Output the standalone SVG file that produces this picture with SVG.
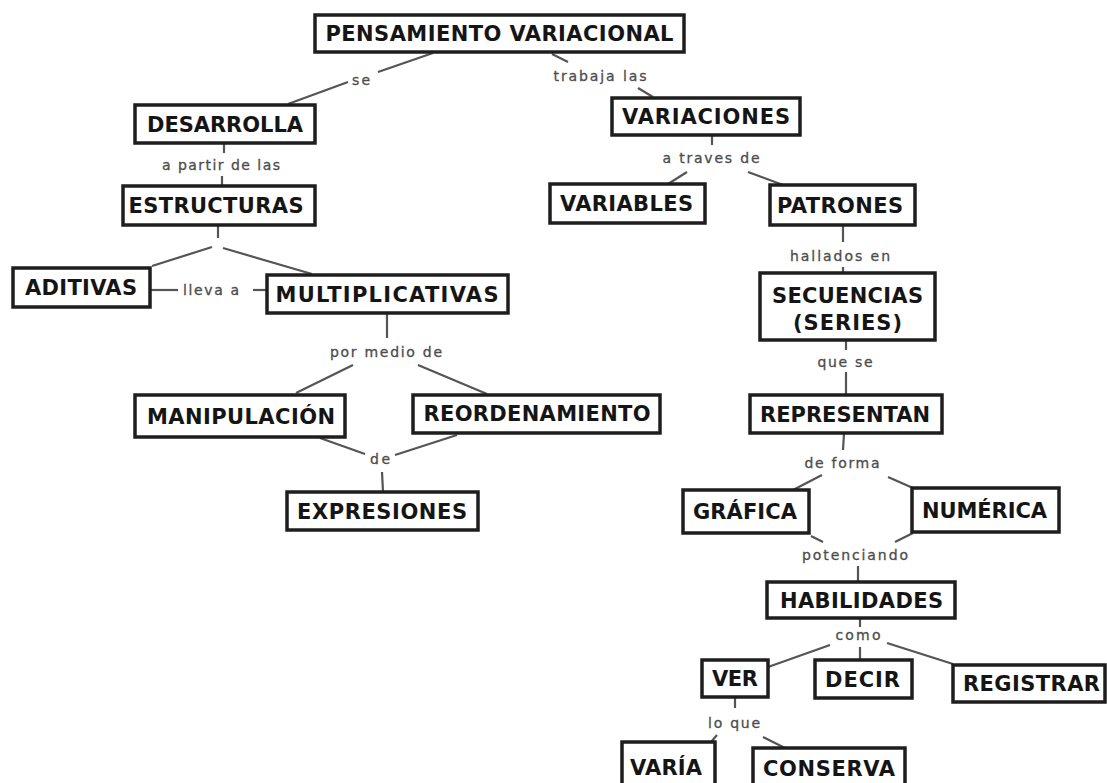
<svg xmlns="http://www.w3.org/2000/svg" width="1107" height="783" viewBox="0 0 1107 783">
  <style>
    .box rect { fill: #ffffff; stroke: #1e1e1e; stroke-width: 3.5; }
    .box text { font-family: "DejaVu Sans", "Liberation Sans", sans-serif; font-weight: bold; font-size: 21px; fill: #151515; text-anchor: middle; }
    .links line { stroke: #555555; stroke-width: 2.2; }
    .lbl { font-family: "DejaVu Sans", "Liberation Sans", sans-serif; font-size: 14px; fill: #4d4d4d; stroke: #4d4d4d; stroke-width: 0.3; text-anchor: middle; }
  </style>
  <rect width="1107" height="783" fill="#ffffff"/>

  <!-- connectors -->
  <g id="connectors" class="links">
    <line x1="433" y1="53" x2="378" y2="72"/>
    <line x1="348" y1="82" x2="288" y2="104"/>
    <line x1="552" y1="54" x2="568" y2="62"/>
    <line x1="638" y1="88" x2="653" y2="97"/>
    <line x1="224" y1="143" x2="224" y2="153"/>
    <line x1="222" y1="176" x2="222" y2="186"/>
    <line x1="218" y1="225" x2="218" y2="238"/>
    <line x1="212" y1="247" x2="152" y2="266"/>
    <line x1="223" y1="248" x2="312" y2="274"/>
    <line x1="150" y1="290" x2="178" y2="290"/>
    <line x1="253" y1="290" x2="267" y2="290"/>
    <line x1="387" y1="313" x2="387" y2="338"/>
    <line x1="353" y1="365" x2="296" y2="393"/>
    <line x1="418" y1="365" x2="487" y2="394"/>
    <line x1="320" y1="438" x2="365" y2="454"/>
    <line x1="457" y1="435" x2="395" y2="455"/>
    <line x1="382" y1="472" x2="383" y2="492"/>
    <line x1="712" y1="135" x2="712" y2="145"/>
    <line x1="687" y1="172" x2="668" y2="184"/>
    <line x1="748" y1="172" x2="783" y2="185"/>
    <line x1="843" y1="225" x2="843" y2="242"/>
    <line x1="843" y1="267" x2="843" y2="273"/>
    <line x1="846" y1="340" x2="846" y2="350"/>
    <line x1="846" y1="372" x2="846" y2="395"/>
    <line x1="844" y1="433" x2="843" y2="450"/>
    <line x1="822" y1="475" x2="793" y2="490"/>
    <line x1="888" y1="477" x2="913" y2="488"/>
    <line x1="811" y1="536" x2="823" y2="542"/>
    <line x1="913" y1="533" x2="895" y2="542"/>
    <line x1="858" y1="566" x2="858" y2="582"/>
    <line x1="860" y1="618" x2="860" y2="627"/>
    <line x1="830" y1="645" x2="768" y2="667"/>
    <line x1="860" y1="647" x2="860" y2="660"/>
    <line x1="887" y1="643" x2="953" y2="664"/>
    <line x1="735" y1="697" x2="735" y2="708"/>
    <line x1="717" y1="735" x2="711" y2="742"/>
    <line x1="763" y1="737" x2="785" y2="748"/>
  </g>

  <!-- link phrases -->
  <g id="link-labels">
    <text class="lbl" x="361" y="85" textLength="18" lengthAdjust="spacing">se</text>
    <text class="lbl" x="600" y="81" textLength="93" lengthAdjust="spacing">trabaja las</text>
    <text class="lbl" x="221" y="170" textLength="118" lengthAdjust="spacing">a partir de las</text>
    <text class="lbl" x="211" y="295" textLength="56" lengthAdjust="spacing">lleva a</text>
    <text class="lbl" x="386" y="357" textLength="112" lengthAdjust="spacing">por medio de</text>
    <text class="lbl" x="380" y="464" textLength="20" lengthAdjust="spacing">de</text>
    <text class="lbl" x="711" y="163" textLength="97" lengthAdjust="spacing">a traves de</text>
    <text class="lbl" x="840" y="261" textLength="100" lengthAdjust="spacing">hallados en</text>
    <text class="lbl" x="845" y="367" textLength="55" lengthAdjust="spacing">que se</text>
    <text class="lbl" x="842" y="468" textLength="75" lengthAdjust="spacing">de forma</text>
    <text class="lbl" x="855" y="560" textLength="106" lengthAdjust="spacing">potenciando</text>
    <text class="lbl" x="858" y="640" textLength="45" lengthAdjust="spacing">como</text>
    <text class="lbl" x="734" y="728" textLength="52" lengthAdjust="spacing">lo que</text>
  </g>

  <!-- concepts -->
  <g id="pensamiento" class="box"><rect x="315" y="15" width="369" height="37"/><text x="499.5" y="41" textLength="348">PENSAMIENTO VARIACIONAL</text></g>
  <g id="desarrolla" class="box"><rect x="135" y="105" width="180" height="38"/><text x="225" y="132" textLength="156">DESARROLLA</text></g>
  <g id="estructuras" class="box"><rect x="123" y="186" width="192" height="39"/><text x="216" y="213" textLength="175">ESTRUCTURAS</text></g>
  <g id="aditivas" class="box"><rect x="13" y="268" width="137" height="39"/><text x="81" y="295" textLength="112">ADITIVAS</text></g>
  <g id="multiplicativas" class="box"><rect x="267" y="275" width="241" height="38"/><text x="387" y="302" textLength="223">MULTIPLICATIVAS</text></g>
  <g id="manipulacion" class="box"><rect x="135" y="395" width="210" height="42"/><text x="241" y="424" textLength="188">MANIPULACIÓN</text></g>
  <g id="reordenamiento" class="box"><rect x="413" y="395" width="247" height="38"/><text x="537" y="421" textLength="227">REORDENAMIENTO</text></g>
  <g id="expresiones" class="box"><rect x="287" y="492" width="191" height="38"/><text x="382" y="519" textLength="170">EXPRESIONES</text></g>
  <g id="variaciones" class="box"><rect x="612" y="98" width="188" height="37"/><text x="706" y="124" textLength="168">VARIACIONES</text></g>
  <g id="variables" class="box"><rect x="550" y="184" width="155" height="39"/><text x="626.5" y="211" textLength="133">VARIABLES</text></g>
  <g id="patrones" class="box"><rect x="770" y="185" width="145" height="40"/><text x="840" y="213" textLength="126">PATRONES</text></g>
  <g id="secuencias" class="box"><rect x="760" y="273" width="175" height="67"/><text x="847.5" y="303" textLength="151">SECUENCIAS</text><text x="847.5" y="330" textLength="109">(SERIES)</text></g>
  <g id="representan" class="box"><rect x="750" y="395" width="192" height="38"/><text x="845" y="422" textLength="170">REPRESENTAN</text></g>
  <g id="grafica" class="box"><rect x="683" y="490" width="126" height="43"/><text x="745" y="519" textLength="104">GRÁFICA</text></g>
  <g id="numerica" class="box"><rect x="912" y="488" width="147" height="44"/><text x="984.5" y="518" textLength="125">NUMÉRICA</text></g>
  <g id="habilidades" class="box"><rect x="767" y="582" width="188" height="36"/><text x="861.5" y="608" textLength="163">HABILIDADES</text></g>
  <g id="ver" class="box"><rect x="702" y="660" width="66" height="37"/><text x="735" y="686" textLength="46">VER</text></g>
  <g id="decir" class="box"><rect x="815" y="660" width="97" height="38"/><text x="862.5" y="687" textLength="75">DECIR</text></g>
  <g id="registrar" class="box"><rect x="953" y="665" width="152" height="37"/><text x="1031.5" y="691" textLength="137">REGISTRAR</text></g>
  <g id="varia" class="box"><rect x="622" y="742" width="93" height="50"/><text x="666" y="775" textLength="72">VARÍA</text></g>
  <g id="conserva" class="box"><rect x="753" y="748" width="152" height="44"/><text x="829" y="776" textLength="132">CONSERVA</text></g>
</svg>
